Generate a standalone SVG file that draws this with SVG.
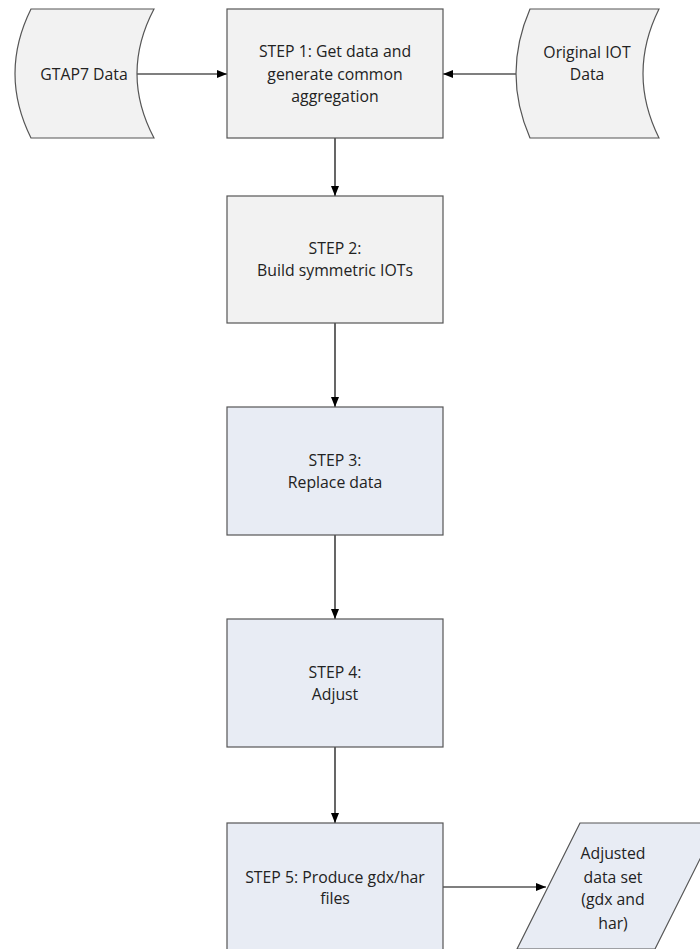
<svg xmlns="http://www.w3.org/2000/svg" width="700" height="949" viewBox="0 0 700 949">
<defs>
<marker id="ah" markerWidth="10" markerHeight="8" refX="10" refY="4" orient="auto" markerUnits="userSpaceOnUse">
<path d="M0,0 L10,4 L0,8 Z" fill="#000"/>
</marker>
<style>
.gray{fill:#f2f2f2;stroke:#555;stroke-width:1.2}
.blue{fill:#e8ecf4;stroke:#555;stroke-width:1.2}
.t{font-family:"Open Sans","Noto Sans",sans-serif;font-size:15.8px;fill:#222;text-anchor:middle}
.c{stroke:#000;stroke-width:1.2;fill:none;marker-end:url(#ah)}
</style>
</defs>
<rect width="700" height="949" fill="#fff"/>
<g id="connectors">
<line class="c" x1="137" y1="74" x2="227" y2="74"/>
<line class="c" x1="516" y1="74" x2="443" y2="74"/>
<line class="c" x1="335" y1="138" x2="335" y2="196"/>
<line class="c" x1="335" y1="323" x2="335" y2="407"/>
<line class="c" x1="335" y1="535" x2="335" y2="619"/>
<line class="c" x1="335" y1="747" x2="335" y2="823"/>
<line class="c" x1="443" y1="887" x2="546" y2="887"/>
</g>
<g id="gtap7">
<path class="gray" d="M31,9 L154,9 Q120,73.5 154,138 L31,138 Q-1,73.5 31,9 Z"/>
<text class="t" x="84" y="80">GTAP7 Data</text>
</g>
<g id="original-iot">
<path class="gray" d="M530,9 L659,9 Q627,73.5 659,138 L530,138 Q502,73.5 530,9 Z"/>
<text class="t" x="587" y="58">Original IOT</text>
<text class="t" x="587" y="80">Data</text>
</g>
<g id="step1">
<rect class="gray" x="227" y="9" width="216" height="129"/>
<text class="t" x="335" y="57">STEP 1: Get data and</text>
<text class="t" x="335" y="80">generate common</text>
<text class="t" x="335" y="102">aggregation</text>
</g>
<g id="step2">
<rect class="gray" x="227" y="196" width="216" height="127"/>
<text class="t" x="335" y="254">STEP 2:</text>
<text class="t" x="335" y="276">Build symmetric IOTs</text>
</g>
<g id="step3">
<rect class="blue" x="227" y="407" width="216" height="128"/>
<text class="t" x="335" y="466">STEP 3:</text>
<text class="t" x="335" y="488">Replace data</text>
</g>
<g id="step4">
<rect class="blue" x="227" y="619" width="216" height="128"/>
<text class="t" x="335" y="678">STEP 4:</text>
<text class="t" x="335" y="700">Adjust</text>
</g>
<g id="step5">
<rect class="blue" x="227" y="823" width="216" height="140"/>
<text class="t" x="335" y="883">STEP 5: Produce gdx/har</text>
<text class="t" x="335" y="904">files</text>
</g>
<g id="adjusted-data">
<path class="blue" d="M580,823 L718,823 L655,949 L517,949 Z"/>
<text class="t" x="613" y="859">Adjusted</text>
<text class="t" x="613" y="883">data set</text>
<text class="t" x="613" y="905">(gdx and</text>
<text class="t" x="613" y="929">har)</text>
</g>
</svg>
